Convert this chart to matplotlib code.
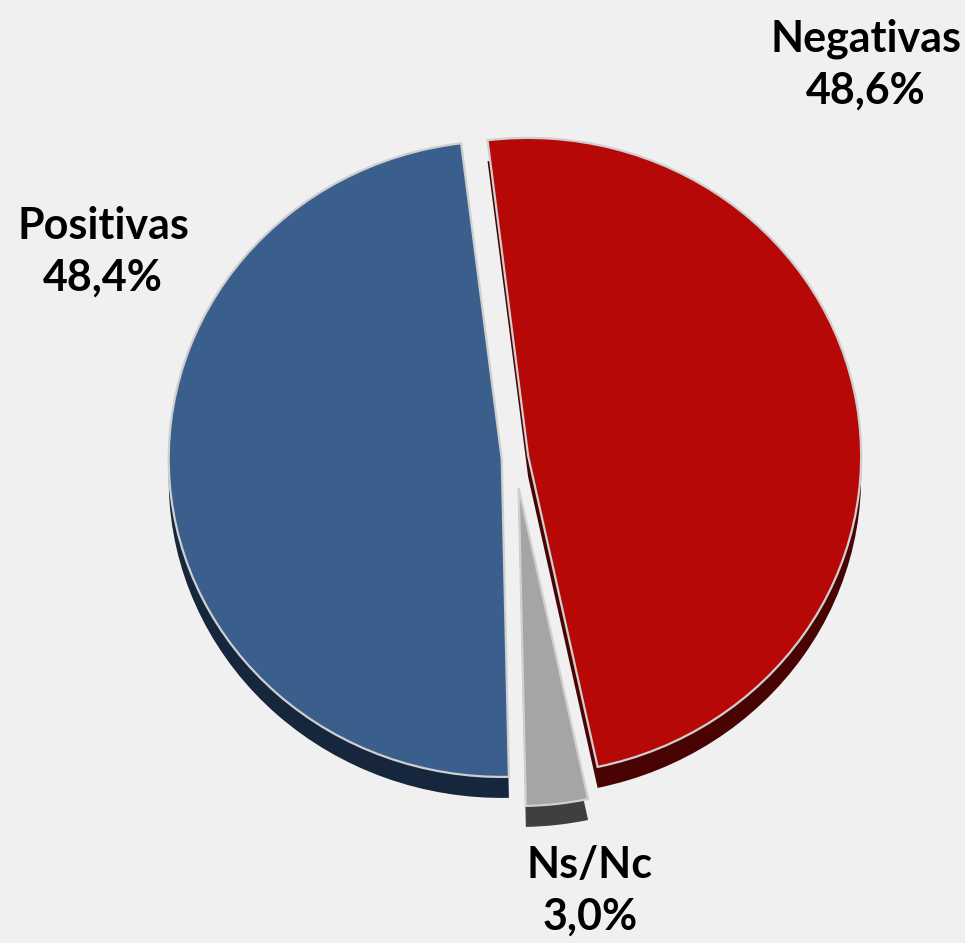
import matplotlib.pyplot as plt
from matplotlib.transforms import Affine2D

# data, clockwise from the top
labels = ["Negativas", "Ns/Nc", "Positivas"]
values = [48.6, 3.0, 48.4]

top_colors = ["#b70808", "#a5a5a5", "#3b5f8d"]
side_colors = ["#4a0303", "#3f3f3f", "#16263c"]
explode = [0.04, 0.095, 0.04]   # fraction of the radius

# layout in pixels (y measured from the bottom)
W, H = 965, 943
cx, cy = 515, H - 458
rx, ry = 333, 318
depth = 21
label_pos = [(866, H - 65), (590, H - 891), (103, H - 252)]

fig = plt.figure(figsize=(W / 100, H / 100), dpi=100, facecolor="#f0f0f0")
ax = fig.add_axes([0, 0, 1, 1])
ax.set_facecolor("#f0f0f0")


def squash(y0):
    return Affine2D().translate(-cx, -y0).scale(1, ry / rx).translate(cx, y0) + ax.transData


# pie() offsets exploded wedges in data units, so scale by the radius
offsets = [e * rx for e in explode]

# side of the 3d pie: same wedges, darker, pushed down
side, _ = ax.pie(values, colors=side_colors, explode=offsets, startangle=97,
                 counterclock=False, radius=rx, center=(cx, cy - depth),
                 wedgeprops=dict(edgecolor="none"), frame=True)
for w in side:
    w.set_transform(squash(cy - depth))
    w.set_zorder(1)

top, _ = ax.pie(values, colors=top_colors, explode=offsets, startangle=97,
                counterclock=False, radius=rx, center=(cx, cy),
                wedgeprops=dict(edgecolor="#cfcfcf", linewidth=1.6), frame=True)
for w in top:
    w.set_transform(squash(cy))
    w.set_zorder(2)

for lab, val, (x, y) in zip(labels, values, label_pos):
    txt = lab + "\n" + f"{val:.1f}".replace(".", ",") + "%"
    ax.text(x, y, txt, ha="center", va="center", fontsize=31, fontweight="bold",
            family=["Lato", "DejaVu Sans"], linespacing=1.35, zorder=3)

ax.set_aspect("auto")
ax.set_xlim(0, W)
ax.set_ylim(0, H)
ax.axis("off")

fig.savefig("out.png", dpi=100, facecolor=fig.get_facecolor())
